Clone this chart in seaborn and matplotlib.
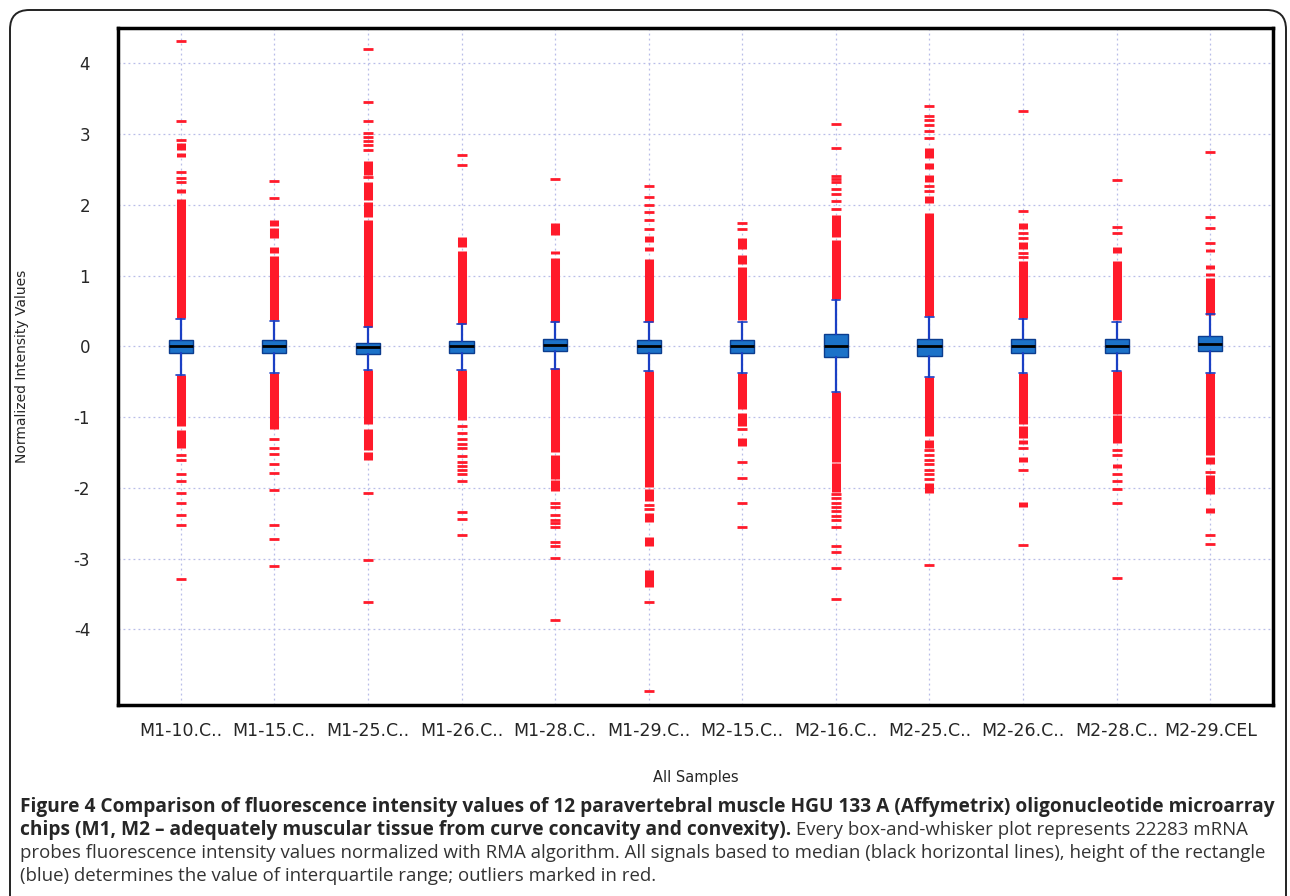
import numpy as np
import pandas as pd
import seaborn as sns
import matplotlib.pyplot as plt
from matplotlib.patches import FancyBboxPatch

samples = ["M1-10.C..", "M1-15.C..", "M1-25.C..", "M1-26.C..", "M1-28.C..", "M1-29.C..",
           "M2-15.C..", "M2-16.C..", "M2-25.C..", "M2-26.C..", "M2-28.C..", "M2-29.CEL"]

# box statistics
medians = [0.0, 0.0, -0.01, 0.0, 0.02, 0.0, 0.0, 0.01, 0.0, 0.0, 0.0, 0.03]
q1 = [-0.10, -0.10, -0.11, -0.09, -0.07, -0.09, -0.10, -0.15, -0.13, -0.09, -0.09, -0.06]
q3 = [0.09, 0.09, 0.05, 0.07, 0.11, 0.09, 0.09, 0.18, 0.11, 0.11, 0.11, 0.15]
whisker_lo = [-0.40, -0.38, -0.34, -0.34, -0.32, -0.35, -0.38, -0.64, -0.43, -0.38, -0.35, -0.37]
whisker_hi = [0.38, 0.36, 0.28, 0.31, 0.34, 0.35, 0.35, 0.66, 0.41, 0.39, 0.35, 0.46]

# dense runs of outliers (lo, hi)
upper_bands = [
    [(0.40, 2.08), (2.17, 2.22), (2.68, 2.73), (2.78, 2.87)],
    [(0.37, 1.27), (1.32, 1.41), (1.53, 1.67), (1.70, 1.78)],
    [(0.28, 1.78), (1.83, 2.04), (2.07, 2.32), (2.42, 2.62)],
    [(0.31, 1.35), (1.41, 1.54)],
    [(0.35, 1.25), (1.31, 1.35), (1.58, 1.75)],
    [(0.35, 1.23), (1.35, 1.41), (1.47, 1.56)],
    [(0.37, 1.12), (1.17, 1.29), (1.38, 1.53)],
    [(0.67, 1.50), (1.55, 1.85)],
    [(0.43, 1.89), (2.02, 2.12), (2.32, 2.42), (2.50, 2.59), (2.66, 2.80)],
    [(0.40, 1.20), (1.38, 1.47), (1.66, 1.75)],
    [(0.37, 1.20), (1.32, 1.41)],
    [(0.45, 0.96), (1.00, 1.04), (1.10, 1.15), (1.33, 1.38)],
]
lower_bands = [
    [(-1.13, -0.40), (-1.44, -1.18)],
    [(-1.17, -0.38)],
    [(-1.10, -0.33), (-1.47, -1.17), (-1.61, -1.50)],
    [(-1.04, -0.33)],
    [(-1.50, -0.31), (-1.87, -1.53), (-2.04, -1.89)],
    [(-1.99, -0.35), (-2.18, -2.02), (-2.48, -2.36), (-2.82, -2.70), (-3.40, -3.16)],
    [(-0.89, -0.38), (-1.12, -0.94), (-1.41, -1.29)],
    [(-1.63, -0.64), (-2.06, -1.65)],
    [(-1.27, -0.43), (-1.44, -1.32), (-2.07, -1.93)],
    [(-1.10, -0.38), (-1.29, -1.13), (-1.38, -1.32), (-1.63, -1.56), (-2.27, -2.20)],
    [(-0.95, -0.35), (-1.37, -0.97), (-1.72, -1.66)],
    [(-1.53, -0.37), (-1.66, -1.56), (-2.09, -1.82), (-2.35, -2.29)],
]

# single outliers
upper_points = [
    [4.32, 3.18, 2.92, 2.46, 2.38, 2.33],
    [2.34, 2.10],
    [4.20, 3.46, 3.18, 3.01, 2.96, 2.90, 2.85, 2.78, 2.39],
    [2.70, 2.57],
    [2.37],
    [2.26, 2.11, 2.00, 1.90, 1.78, 1.66],
    [1.74, 1.66],
    [3.15, 2.80, 2.41, 2.37, 2.33, 2.23, 2.15, 2.06, 1.94],
    [3.40, 3.25, 3.20, 3.13, 3.04, 2.94, 2.27, 2.19],
    [3.33, 1.92, 1.60, 1.53, 1.32, 1.26],
    [2.35, 1.69, 1.60],
    [2.75, 1.83, 1.67, 1.46],
]
lower_points = [
    [-1.53, -1.61, -1.81, -1.91, -2.07, -2.21, -2.38, -2.53, -3.29],
    [-1.31, -1.44, -1.52, -1.66, -1.79, -2.03, -2.52, -2.73, -3.10],
    [-2.07, -3.02, -3.61],
    [-1.12, -1.23, -1.31, -1.38, -1.44, -1.55, -1.63, -1.69, -1.75, -1.81, -1.90, -2.34, -2.44, -2.67],
    [-2.21, -2.27, -2.39, -2.45, -2.50, -2.55, -2.76, -2.82, -2.99, -3.87],
    [-2.24, -2.30, -3.61, -4.87],
    [-1.17, -1.64, -1.86, -2.21, -2.55],
    [-2.09, -2.15, -2.21, -2.27, -2.33, -2.40, -2.46, -2.55, -2.82, -2.91, -3.13, -3.57],
    [-1.47, -1.53, -1.60, -1.66, -1.75, -1.81, -1.87, -3.09],
    [-1.44, -1.75, -2.81],
    [-1.47, -1.53, -1.81, -1.90, -2.01, -2.22, -3.28],
    [-1.78, -2.67, -2.79],
]

yticks = [-4, -3, -2, -1, 0, 1, 2, 3, 4]

caption_bold_1 = ("Figure 4 Comparison of fluorescence intensity values of 12 paravertebral muscle "
                  "HGU 133 A (Affymetrix) oligonucleotide microarray")
caption_bold_2 = "chips (M1, M2 \u2013 adequately muscular tissue from curve concavity and convexity)."
caption_reg_2 = " Every box-and-whisker plot represents 22283 mRNA"
caption_reg_3 = ("probes fluorescence intensity values normalized with RMA algorithm. All signals based "
                 "to median (black horizontal lines), height of the rectangle")
caption_reg_4 = "(blue) determines the value of interquartile range; outliers marked in red."

RED = "#ff1a2a"
BLUE = "#1c72c8"

sns.set_style("white")
plt.rcParams['font.family'] = ['DejaVu Sans']

fig = plt.figure(figsize=(12.9, 8.96), dpi=100)
ax = fig.add_axes([118 / 1290, 1 - 705 / 896, (1273 - 118) / 1290, (705 - 28) / 896])

pos = np.arange(len(samples))

# outlier runs
for i in pos:
    for lo, hi in upper_bands[i] + lower_bands[i]:
        ax.vlines(i, lo, hi, color=RED, linewidth=6.5, zorder=2)

points = pd.DataFrame(
    [(i, v) for i in pos for v in upper_points[i] + lower_points[i]],
    columns=["pos", "value"])
sns.scatterplot(data=points, x="pos", y="value", marker="_", s=45, color=RED,
                linewidth=2, ax=ax, zorder=2, legend=False)

stats = [dict(med=medians[i], q1=q1[i], q3=q3[i], whislo=whisker_lo[i], whishi=whisker_hi[i],
              fliers=[]) for i in pos]
ax.bxp(stats, positions=pos, widths=0.26, patch_artist=True, showfliers=False,
       boxprops=dict(facecolor=BLUE, edgecolor="#0b3d8f", linewidth=1),
       medianprops=dict(color="black", linewidth=2),
       whiskerprops=dict(color="#1a3fc4", linewidth=1.6),
       capprops=dict(color="#1a3fc4", linewidth=1.2), capwidths=0.09, zorder=3)

ax.set_xlim(-0.67, 11.67)
ax.set_ylim(-5.07, 4.5)
ax.set_xticks(pos)
ax.set_xticklabels(samples, fontsize=12.5)
ax.set_yticks(yticks)
ax.set_yticklabels([str(t) for t in yticks], fontsize=12)
ax.grid(True, linestyle=(0, (1.5, 2.5)), color="#b8bde8", linewidth=0.9)
ax.set_axisbelow(True)
ax.tick_params(axis="both", direction="out", length=6, width=2, color="black")
ax.tick_params(axis="y", pad=14)
ax.tick_params(axis="x", pad=6)
for s in ax.spines.values():
    s.set_linewidth(2.5)
    s.set_color("black")
ax.set_xlabel("All Samples", fontsize=10.5, labelpad=22)
ax.set_ylabel("Normalized Intensity Values", fontsize=10, labelpad=32)

# rounded outer frame
frame = FancyBboxPatch((10 / 1290, -0.1), 1276 / 1290, 1.1 - 10 / 896,
                       boxstyle="round,pad=0,rounding_size=0.015",
                       transform=fig.transFigure, fill=False, edgecolor="#222222",
                       linewidth=1.4, mutation_aspect=1290 / 896)
fig.patches.append(frame)

bold_kw = dict(fontsize=13.8, family="Open Sans", weight="bold", va="baseline", ha="left")
reg_kw = dict(fontsize=13.4, family="Open Sans", color="#333333", va="baseline", ha="left")
x0 = 20 / 1290
fig.text(x0, 1 - 812 / 896, caption_bold_1, **bold_kw)
t2 = fig.text(x0, 1 - 835 / 896, caption_bold_2, **bold_kw)
fig.canvas.draw()
bb = t2.get_window_extent()
fig.text(bb.x1 / fig.bbox.width, 1 - 835 / 896, caption_reg_2, **reg_kw)
fig.text(x0, 1 - 858 / 896, caption_reg_3, **reg_kw)
fig.text(x0, 1 - 881 / 896, caption_reg_4, **reg_kw)

fig.savefig("out.png", dpi=100)
